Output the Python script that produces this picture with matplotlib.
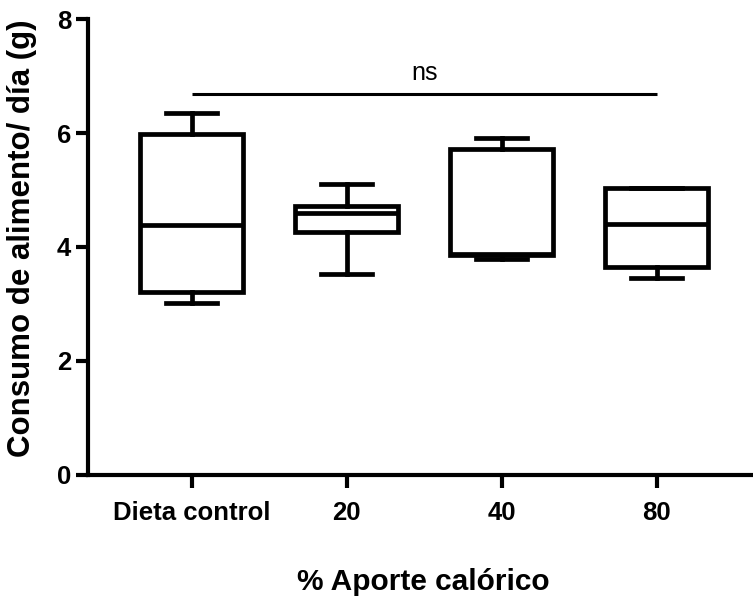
import matplotlib.pyplot as plt

# values (min, Q1, median, Q3, max per group)
groups = ['Dieta control', '20', '40', '80']
mins = [3.02, 3.53, 3.79, 3.46]
q1s = [3.21, 4.26, 3.85, 3.64]
medians = [4.38, 4.59, 3.88, 4.41]
q3s = [5.98, 4.71, 5.72, 5.03]
maxs = [6.36, 5.10, 5.91, 5.03]

yticks = [0, 2, 4, 6, 8]
ns_height = 6.68

plt.rcParams['font.family'] = ['Liberation Sans', 'DejaVu Sans']

fig = plt.figure(figsize=(7.53, 6.0), dpi=100)
ax = fig.add_axes([0.1169, 0.209, 0.882, 0.759])

stats = []
for i, name in enumerate(groups):
    stats.append({'label': name, 'whislo': mins[i], 'q1': q1s[i],
                  'med': medians[i], 'q3': q3s[i], 'whishi': maxs[i],
                  'fliers': []})

lw = 3.4
ax.bxp(stats, positions=range(len(groups)), widths=0.665,
       showfliers=False, patch_artist=True,
       boxprops=dict(facecolor='white', edgecolor='black', linewidth=lw),
       medianprops=dict(color='black', linewidth=lw),
       whiskerprops=dict(color='black', linewidth=lw),
       capprops=dict(color='black', linewidth=lw))

# significance bar
ax.plot([0, len(groups) - 1], [ns_height, ns_height], color='black', lw=2.2,
        solid_capstyle='butt')
ax.text((len(groups) - 1) / 2, 6.93, 'ns', ha='center', va='baseline',
        fontsize=18)

ax.set_xlim(-0.668, 3.616)
ax.set_ylim(0, 8)
ax.set_yticks(yticks)
ax.set_xticks(range(len(groups)))
ax.set_xticklabels(groups)

for side in ['top', 'right']:
    ax.spines[side].set_visible(False)
for side in ['left', 'bottom']:
    ax.spines[side].set_linewidth(3)

ax.tick_params(axis='both', width=3, length=9, labelsize=18.5)
ax.tick_params(axis='x', pad=10)
ax.tick_params(axis='y', pad=3)
for lab in ax.get_xticklabels() + ax.get_yticklabels():
    lab.set_fontweight('bold')

ax.set_xlabel('% Aporte calórico', fontsize=21.5, fontweight='bold')
ax.set_ylabel('Consumo de alimento/ día (g)', fontsize=22.5, fontweight='bold')
ax.xaxis.set_label_coords(0.505, -0.205)
ax.yaxis.set_label_coords(-0.077, 0.52)

fig.savefig('out.png', dpi=100)
